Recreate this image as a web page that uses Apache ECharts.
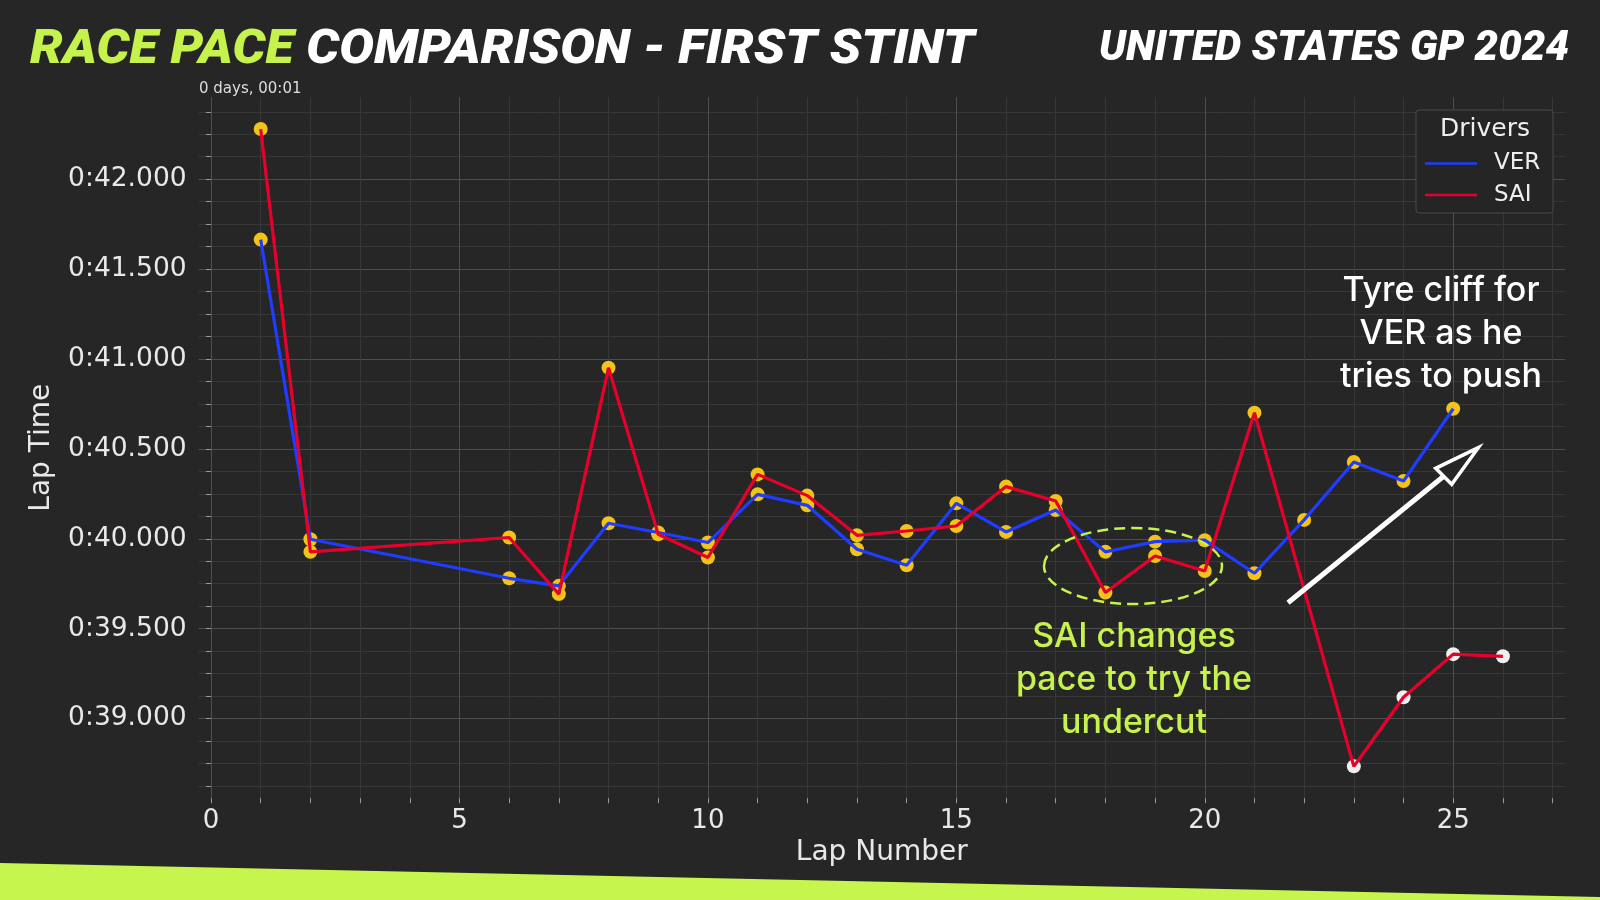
<!DOCTYPE html>
<html>
<head>
<meta charset="utf-8">
<title>Race pace comparison - first stint</title>
<script src="https://cdn.jsdelivr.net/npm/echarts@6/dist/echarts.min.js"></script>
<style>
    html, body { margin: 0; padding: 0; background: #272626; }
    #chart { width: 1600px; height: 900px; }
</style>
</head>
<body>
<div id="chart"></div>
<script>
// lap numbers shared by both drivers (laps 3-5 have no timing)
const laps = [1, 2, 6, 7, 8, 9, 10, 11, 12, 13, 14, 15, 16, 17, 18, 19, 20, 21, 22, 23, 24, 25, 26]
// lap times in seconds, null = no lap
const verTimes = [41.664, 39.997, 39.780, 39.738, 40.086, 40.035, 39.979, 40.247, 40.186, 39.942, 39.853, 40.197,
    40.038, 40.160, 39.927, 39.984, 39.992, 39.808, 40.105, 40.427, 40.321, 40.723, null]
const saiTimes = [42.279, 39.927, 40.007, 39.692, 40.951, 40.025, 39.896, 40.358, 40.240, 40.019, 40.043, 40.071,
    40.290, 40.210, 39.701, 39.904, 39.821, 40.701, null, 38.734, 39.118, 39.358, 39.346]
// tyre compound per lap
const verTyres = ['M', 'M', 'M', 'M', 'M', 'M', 'M', 'M', 'M', 'M', 'M', 'M', 'M', 'M', 'M', 'M', 'M', 'M', 'M', 'M', 'M', 'M', 'M']
const saiTyres = ['M', 'M', 'M', 'M', 'M', 'M', 'M', 'M', 'M', 'M', 'M', 'M', 'M', 'M', 'M', 'M', 'M', 'M', 'M', 'H', 'H', 'H', 'H']
// tick labels
const xTickLabels = [0, 5, 10, 15, 20, 25]
const yTickLabels = [39.0, 39.5, 40.0, 40.5, 41.0, 41.5, 42.0]

const tyreColor = { M: '#f2c318', H: '#efefef' }
const lime = '#c6f24e'
const bg = '#272626'
const majorGrid = '#4e4e4e'
const minorGrid = '#373737'

const toPairs = (times, tyres) => laps
    .map((lap, i) => [lap, times[i], tyres[i]])
    .filter(d => d[1] !== null)

const verData = toPairs(verTimes, verTyres)
const saiData = toPairs(saiTimes, saiTyres)

// matplotlib style 5% margins
const allTimes = verTimes.concat(saiTimes).filter(v => v !== null)
const tMin = Math.min(...allTimes), tMax = Math.max(...allTimes)
const yMin = tMin - (tMax - tMin) * 0.05
const yMax = tMax + (tMax - tMin) * 0.05
const lMin = Math.min(...laps), lMax = Math.max(...laps)
const xMin = lMin - (lMax - lMin) * 0.05
const xMax = lMax + (lMax - lMin) * 0.05

// minor ticks: every lap / every 0.125 s
const xTicks = []
for (let k = Math.ceil(xMin); k <= Math.floor(xMax); k++) xTicks.push(k)
const xGridColors = [0, 1, 2, 3, 4].map(i => ((xTicks[0] + i) % 5 === 0 ? majorGrid : minorGrid))
const yTicks = []
const k0 = Math.ceil(yMin * 8)
for (let k = k0; k <= Math.floor(yMax * 8); k++) yTicks.push(k / 8)
const yGridColors = [0, 1, 2, 3].map(i => ((k0 + i) % 4 === 0 ? majorGrid : minorGrid))

const fmtLap = v => {
    const m = Math.floor(v / 60)
    const s = v - m * 60
    return m + ':' + s.toFixed(3).padStart(6, '0')
}

const chart = echarts.init(document.getElementById('chart'))
const option = {
    backgroundColor: bg,
    animation: false,
    grid: { left: 198.6, right: 35, top: 97.2, bottom: 101.8 },
    xAxis: {
        type: 'value',
        min: xMin,
        max: xMax,
        axisLine: { show: false },
        axisTick: { show: true, customValues: xTicks, length: 5, lineStyle: { color: '#9a9a9a' } },
        axisLabel: { customValues: xTickLabels, color: '#e8e8e8', fontSize: 26, fontFamily: 'DejaVu Sans', margin: 10 },
        splitLine: { show: true, lineStyle: { color: xGridColors, width: 1 } },
        name: 'Lap Number',
        nameLocation: 'middle',
        nameGap: 40,
        nameTextStyle: { color: '#e8e8e8', fontSize: 28, fontFamily: 'DejaVu Sans' },
    },
    yAxis: {
        type: 'value',
        min: yMin,
        max: yMax,
        axisLine: { show: false },
        axisTick: { show: true, customValues: yTicks, length: 5, lineStyle: { color: '#9a9a9a' } },
        axisLabel: { customValues: yTickLabels, color: '#e8e8e8', fontSize: 26.5, fontFamily: 'DejaVu Sans', margin: 12, formatter: fmtLap },
        splitLine: { show: true, lineStyle: { color: yGridColors, width: 1 } },
        name: 'Lap Time',
        nameLocation: 'middle',
        nameGap: 143,
        nameTextStyle: { color: '#e8e8e8', fontSize: 28, fontFamily: 'DejaVu Sans' },
    },
    legend: {
        data: ['VER', 'SAI'],
        orient: 'vertical',
        left: 1420,
        top: 147,
        icon: 'rect',
        itemWidth: 52,
        itemHeight: 2.5,
        itemGap: 8.5,
        selectedMode: false,
        z: 8,
        textStyle: { color: '#eeeeee', fontSize: 23, fontFamily: 'DejaVu Sans', padding: [0, 0, 0, 12] },
    },
    series: [
        {
            type: 'scatter', name: 'VER tyres', data: verData, symbolSize: 14, z: 2,
            itemStyle: { color: p => tyreColor[p.data[2]], opacity: 1 },
        },
        {
            type: 'scatter', name: 'SAI tyres', data: saiData, symbolSize: 14, z: 2,
            itemStyle: { color: p => tyreColor[p.data[2]], opacity: 1 },
        },
        {
            type: 'line', name: 'VER', data: verData, showSymbol: false, symbol: 'none', z: 3,
            color: '#1f3cff', lineStyle: { color: '#1f3cff', width: 3.2 },
        },
        {
            type: 'line', name: 'SAI', data: saiData, showSymbol: false, symbol: 'none', z: 4,
            color: '#e8002d', lineStyle: { color: '#e8002d', width: 3.2 },
        },
    ],
    graphic: [
        {
            type: 'polygon', z: 1, silent: true,
            shape: { points: [[0, 863], [1600, 897], [1600, 900], [0, 900]] },
            style: { fill: '#c6f54e' },
        },
        {
            type: 'text', z: 10, silent: true,
            x: 30, y: 51, scaleX: 1.08,
            style: {
                x: 0, y: 0, verticalAlign: 'middle',
                text: '{a|RACE PACE }{b|COMPARISON - FIRST STINT}',
                rich: {
                    a: { fill: lime, fontSize: 48, fontWeight: 900, fontStyle: 'italic', fontFamily: 'Roboto' },
                    b: { fill: '#ffffff', fontSize: 48, fontWeight: 900, fontStyle: 'italic', fontFamily: 'Roboto' },
                },
            },
        },
        {
            type: 'text', z: 10, silent: true,
            style: {
                x: 1569, y: 49, align: 'right', verticalAlign: 'middle',
                text: 'UNITED STATES GP 2024',
                fill: '#ffffff', fontSize: 42, fontWeight: 900, fontStyle: 'italic', fontFamily: 'Roboto',
            },
        },
        {
            type: 'text', z: 10, silent: true,
            style: { x: 199, y: 89, verticalAlign: 'middle', text: '0 days, 00:01', fill: '#dddddd', fontSize: 15, fontFamily: 'DejaVu Sans' },
        },
        // legend frame and title
        {
            type: 'rect', z: 6, silent: true,
            shape: { x: 1416, y: 110, width: 137, height: 103, r: 3 },
            style: { fill: '#262525', stroke: '#4a4a4a', lineWidth: 1 },
        },
        {
            type: 'text', z: 7, silent: true,
            style: { x: 1485, y: 129, align: 'center', verticalAlign: 'middle', text: 'Drivers', fill: '#eeeeee', fontSize: 25, fontFamily: 'DejaVu Sans' },
        },
        // annotations
        {
            type: 'text', z: 10, silent: true,
            style: {
                x: 1441, y: 334, align: 'center', verticalAlign: 'middle', lineHeight: 43,
                text: 'Tyre cliff for\nVER as he\ntries to push',
                fill: '#ffffff', fontSize: 34, fontWeight: 500, fontFamily: 'Inter',
            },
        },
        {
            type: 'text', z: 10, silent: true,
            style: {
                x: 1134, y: 680, align: 'center', verticalAlign: 'middle', lineHeight: 43,
                text: 'SAI changes\npace to try the\nundercut',
                fill: lime, fontSize: 34, fontWeight: 500, fontFamily: 'Inter',
            },
        },
        {
            type: 'ellipse', z: 10, silent: true,
            shape: { cx: 1133, cy: 566, rx: 89, ry: 38 },
            style: { fill: null, stroke: lime, lineWidth: 2.5, lineDash: [11, 6] },
        },
        {
            type: 'line', z: 10, silent: true,
            shape: { x1: 1288, y1: 602.7, x2: 1443.7, y2: 476.3 },
            style: { stroke: '#ffffff', lineWidth: 5 },
        },
        {
            type: 'polygon', z: 11, silent: true,
            shape: { points: [[1478.3, 447.7], [1435.7, 468.3], [1451.7, 484.3]] },
            style: { fill: bg, stroke: '#ffffff', lineWidth: 3.5, lineJoin: 'miter' },
        },
    ],
}
chart.setOption(option)
window.addEventListener('resize', () => {
    chart.resize()
})
</script>
</body>
</html>
